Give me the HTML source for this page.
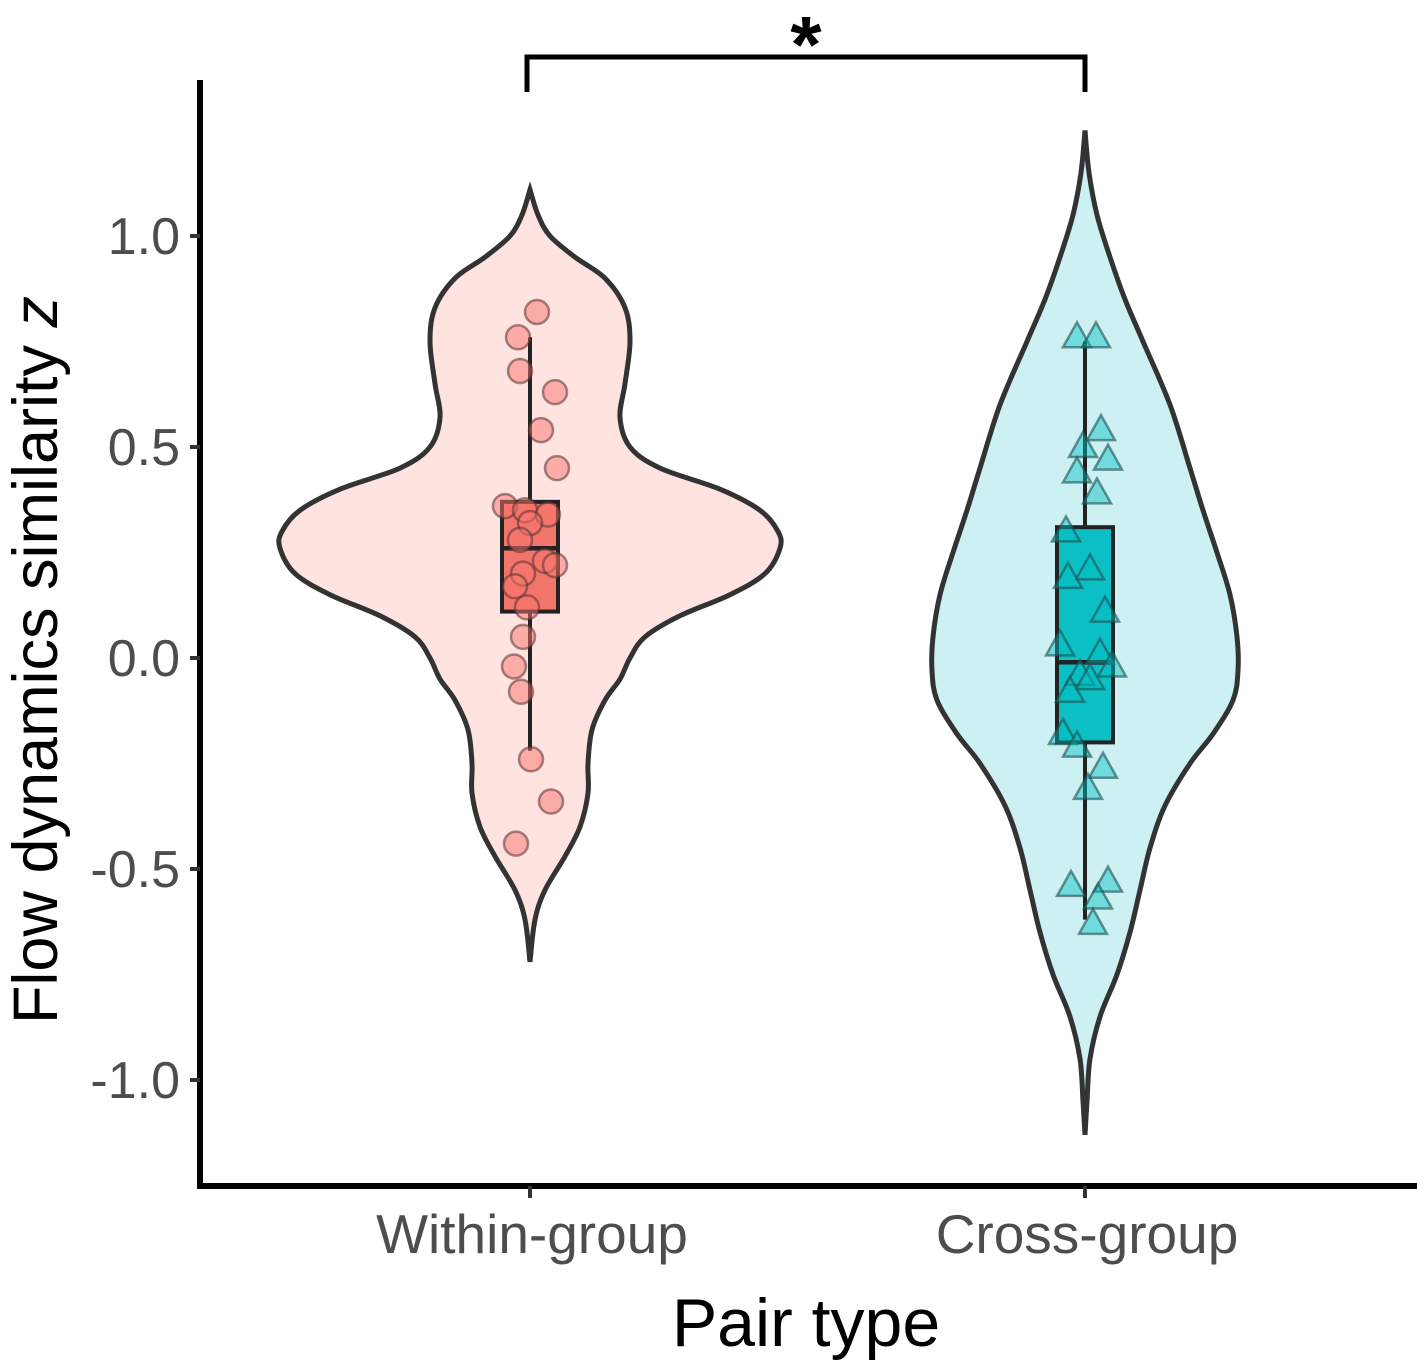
<!DOCTYPE html>
<html><head><meta charset="utf-8"><style>
html,body{margin:0;padding:0;background:#fff}
svg{display:block;font-family:"Liberation Sans",sans-serif}
</style></head><body>
<svg id="chart" width="1417" height="1367" viewBox="0 0 1417 1367">
<g id="plot"></g>
</svg>
<script>
const categories=["Within-group","Cross-group"];
const yTicks=[1.0,0.5,0.0,-0.5,-1.0];
const yTickLabels=["1.0","0.5","0.0","-0.5","-1.0"];
const withinDensityY=[1.11,1.05,1.0,0.95,0.9,0.83,0.75,0.65,0.57,0.5,0.45,0.4,0.35,0.3,0.26,0.2,0.15,0.1,0.05,0.0,-0.05,-0.1,-0.17,-0.25,-0.32,-0.4,-0.47,-0.55,-0.62,-0.72];
const withinDensityW=[0,8,20,45,75,95,100,95,90,100,130,190,230,248,250,235,200,150,115,100,90,75,62,58,58,50,35,15,5,0];
const crossDensityY=[1.25,1.15,1.05,0.95,0.85,0.75,0.6,0.45,0.35,0.25,0.15,0.05,-0.03,-0.1,-0.18,-0.25,-0.35,-0.45,-0.55,-0.65,-0.75,-0.85,-0.95,-1.05,-1.13];
const crossDensityW=[0,4,12,25,40,58,85,105,118,132,145,152,153,148,128,105,80,65,55,45,32,15,5,2,0];
const withinBox=[-0.22,0.11,0.26,0.37,0.76];
const crossBox=[-0.62,-0.2,-0.01,0.31,0.75];
const withinPtsVal=[0.82,0.76,0.68,0.63,0.54,0.45,0.36,0.35,0.34,0.32,0.28,0.23,0.2,0.22,0.17,0.12,0.05,-0.02,-0.08,-0.24,-0.34,-0.44];
const withinPtsJit=[7,-12,-10,25,11,27,-25,-5,18,0,-10,15,-7,25,-15,-3,-7,-16,-9,1,21,-14];
const crossPtsVal=[0.76,0.76,0.5,0.54,0.44,0.47,0.39,0.3,0.21,0.19,0.11,0.03,0.01,-0.02,-0.04,-0.05,-0.08,-0.18,-0.21,-0.26,-0.31,-0.54,-0.53,-0.57,-0.63];
const crossPtsJit=[-8,11,-2,16,-8,23,12,-19,5,-17,20,-25,15,27,-5,5,-15,-22,-8,18,3,-14,23,13,8];

const NS="http://www.w3.org/2000/svg";
const g=document.getElementById('plot');
const y=v=>658-v*422;
const xCat=i=>[530,1085][i];
function el(t,a,parent){const e=document.createElementNS(NS,t);for(const k in a)e.setAttribute(k,a[k]);(parent||g).appendChild(e);return e;}
function smooth(pts){let d="M"+pts[0][0]+","+pts[0][1];for(let i=0;i<pts.length-1;i++){const p0=pts[Math.max(0,i-1)],p1=pts[i],p2=pts[i+1],p3=pts[Math.min(pts.length-1,i+2)];const c1=[p1[0]+(p2[0]-p0[0])/6,p1[1]+(p2[1]-p0[1])/6],c2=[p2[0]-(p3[0]-p1[0])/6,p2[1]-(p3[1]-p1[1])/6];d+=`C${c1[0]},${c1[1]} ${c2[0]},${c2[1]} ${p2[0]},${p2[1]}`;}return d;}
function violin(i,ys,ws,fill,name){const cx=xCat(i);const right=ys.map((v,k)=>[cx+ws[k],y(v)]);const left=ys.map((v,k)=>[cx-ws[k],y(v)]).reverse();
const p=el('path',{d:smooth(right)+smooth(left).replace('M','L')+'Z',fill:fill,stroke:'#333',"stroke-width":5});

}
violin(0,withinDensityY,withinDensityW,'#fee3e1','violin-within');
violin(1,crossDensityY,crossDensityW,'#cdf0f2','violin-cross');
function box(i,b,fill,name){const cx=xCat(i);const gg=el('g',{});


el('line',{x1:cx,x2:cx,y1:y(b[0]),y2:y(b[4]),stroke:'#222',"stroke-width":4},gg);
el('rect',{x:cx-28,y:y(b[3]),width:56,height:y(b[1])-y(b[3]),fill:fill,stroke:'#222',"stroke-width":4},gg);
el('line',{x1:cx-28,x2:cx+28,y1:y(b[2]),y2:y(b[2]),stroke:'#222',"stroke-width":4.5},gg);}
box(0,withinBox,'#f2756b','box-within');
box(1,crossBox,'#0bbfc4','box-cross');
withinPtsVal.forEach((v,k)=>{const c=el('circle',{cx:xCat(0)+withinPtsJit[k],cy:y(v),r:12,fill:'rgba(248,118,109,0.5)',stroke:'rgba(90,50,50,0.55)',"stroke-width":2.5});

});
crossPtsVal.forEach((v,k)=>{const cx=xCat(1)+crossPtsJit[k],cy=y(v);const t=el('polygon',{points:`${cx},${cy-15} ${cx-14},${cy+10} ${cx+14},${cy+10}`,fill:'rgba(0,191,196,0.45)',stroke:'rgba(30,80,80,0.6)',"stroke-width":2.5});

});
// axes
const ya=el('line',{x1:200,x2:200,y1:80,y2:1188,stroke:'#000',"stroke-width":6});


const xa=el('line',{x1:197,x2:1417,y1:1186,y2:1186,stroke:'#000',"stroke-width":6});


yTicks.forEach((v,k)=>{el('line',{x1:190,x2:200,y1:y(v),y2:y(v),stroke:'#333',"stroke-width":4});
const t=el('text',{x:180,y:y(v)+18,"text-anchor":"end","font-size":52,fill:'#4d4d4d'});t.textContent=yTickLabels[k];

});
categories.forEach((c,i)=>{el('line',{x1:xCat(i),x2:xCat(i),y1:1186,y2:1198,stroke:'#333',"stroke-width":4});
const t=el('text',{x:xCat(i)+2,y:1253,"text-anchor":"middle","font-size":55,fill:'#4d4d4d'});t.textContent=c;

});
const xt=el('text',{x:806,y:1346,"text-anchor":"middle","font-size":68,fill:'#000'});xt.textContent="Pair type";


const yt=el('text',{transform:'translate(57,660) rotate(-90)',"text-anchor":"middle","font-size":63,fill:'#000'});
yt.innerHTML='Flow dynamics similarity <tspan font-style="italic">z</tspan>';


const br=el('path',{d:'M527,92 L527,57 L1085,57 L1085,92',fill:'none',stroke:'#000',"stroke-width":5});


const st=el('text',{x:806,y:72,"text-anchor":"middle","font-size":80,"font-weight":"bold",fill:'#000'});st.textContent="*";


</script>
</body></html>
